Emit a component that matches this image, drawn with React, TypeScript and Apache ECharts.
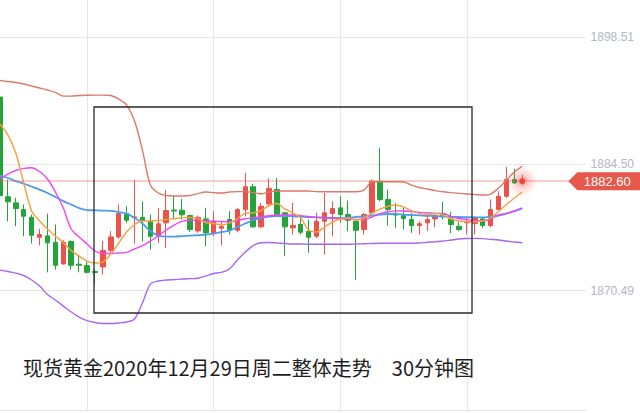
import React, { useEffect, useRef } from "react";
import * as echarts from "echarts";

// 30-minute slots on the time axis (67 candles + empty room on the right)
const slots: string[] = Array.from({ length: 75 }, (_, i) => `K${i + 1}`);

// [open, close, low, high]
const candles: number[][] = [
  [1891.9, 1881.0, 1880.8, 1892.1],
  [1880.87, 1880.32, 1878.17, 1882.78],
  [1880.2, 1879.57, 1877.62, 1880.76],
  [1879.46, 1878.72, 1876.51, 1880.02],
  [1878.61, 1876.62, 1875.7, 1878.91],
  [1876.4, 1876.7, 1875.48, 1877.33],
  [1876.55, 1875.78, 1872.52, 1879.02],
  [1875.84, 1873.3, 1872.82, 1877.81],
  [1873.45, 1875.84, 1873.38, 1876.06],
  [1875.92, 1873.3, 1872.82, 1876.06],
  [1873.42, 1873.3, 1872.52, 1874.48],
  [1873.26, 1872.52, 1872.4, 1873.7],
  [1872.6, 1872.5, 1871.16, 1872.9],
  [1873.12, 1874.96, 1872.27, 1876.0],
  [1874.96, 1876.44, 1874.67, 1877.07],
  [1876.44, 1879.02, 1876.22, 1880.02],
  [1879.02, 1878.28, 1877.99, 1879.83],
  [1878.55, 1878.65, 1875.7, 1882.72],
  [1878.6, 1878.24, 1875.95, 1880.38],
  [1878.17, 1876.51, 1875.03, 1878.9],
  [1876.51, 1877.88, 1875.78, 1879.65],
  [1877.99, 1879.35, 1875.2, 1881.6],
  [1879.4, 1879.3, 1878.36, 1880.93],
  [1879.39, 1878.88, 1878.36, 1880.64],
  [1878.8, 1877.25, 1877.0, 1878.9],
  [1877.1, 1878.6, 1876.9, 1878.8],
  [1878.43, 1876.88, 1875.4, 1879.65],
  [1876.88, 1878.17, 1876.51, 1879.28],
  [1877.4, 1877.6, 1875.5, 1878.2],
  [1878.36, 1877.17, 1876.7, 1879.28],
  [1877.17, 1879.46, 1876.95, 1879.65],
  [1879.46, 1881.98, 1878.72, 1883.53],
  [1881.98, 1877.55, 1877.44, 1882.31],
  [1877.55, 1879.83, 1877.44, 1880.2],
  [1880.09, 1881.8, 1879.83, 1882.9],
  [1881.68, 1878.91, 1878.72, 1882.97],
  [1879.1, 1877.55, 1874.3, 1879.2],
  [1877.44, 1877.7, 1876.7, 1880.2],
  [1877.81, 1876.95, 1876.7, 1878.72],
  [1877.06, 1876.4, 1874.67, 1878.35],
  [1876.51, 1878.17, 1876.3, 1879.1],
  [1878.17, 1879.1, 1874.48, 1881.3],
  [1879.02, 1879.57, 1876.51, 1880.38],
  [1879.65, 1878.91, 1877.99, 1880.93],
  [1878.91, 1878.28, 1877.06, 1880.46],
  [1878.17, 1877.17, 1871.67, 1878.3],
  [1877.25, 1878.91, 1876.7, 1879.1],
  [1879.1, 1882.6, 1878.9, 1882.8],
  [1882.6, 1880.57, 1880.4, 1886.3],
  [1880.57, 1879.46, 1877.7, 1881.68],
  [1878.95, 1878.85, 1877.44, 1880.2],
  [1878.8, 1878.47, 1877.25, 1879.65],
  [1878.35, 1877.7, 1876.88, 1879.1],
  [1877.7, 1877.9, 1876.7, 1878.17],
  [1877.99, 1878.35, 1877.1, 1879.0],
  [1878.43, 1878.8, 1877.5, 1879.1],
  [1878.95, 1878.8, 1878.36, 1880.3],
  [1878.43, 1877.81, 1876.85, 1879.2],
  [1877.62, 1877.25, 1877.1, 1878.1],
  [1878.0, 1878.05, 1876.7, 1878.6],
  [1877.91, 1878.54, 1876.7, 1878.75],
  [1878.43, 1877.7, 1877.45, 1878.65],
  [1877.7, 1879.46, 1877.5, 1880.57],
  [1879.46, 1880.93, 1879.4, 1881.5],
  [1880.93, 1882.78, 1880.75, 1884.19],
  [1882.78, 1882.42, 1882.3, 1883.97],
  [1882.45, 1882.6, 1882.2, 1883.3],
];

const maOrange: number[] = [
  1888.92, 1887.7, 1885.71, 1882.39, 1879.3, 1878.2, 1877.31, 1876.54, 1875.82, 1874.93,
  1874.32, 1873.77, 1873.55, 1873.66, 1874.54, 1875.76, 1876.98, 1877.81, 1878.2, 1878.2,
  1878.25, 1878.38, 1878.46, 1878.55, 1878.58, 1878.46, 1878.03, 1877.92, 1877.79, 1877.97,
  1878.47, 1879.04, 1879.1, 1879.35, 1879.91, 1880.13, 1879.52, 1879.08, 1878.52, 1877.2,
  1876.98, 1877.53, 1878.08, 1878.42, 1878.53, 1878.31, 1878.53, 1879.08, 1879.52, 1879.8,
  1879.96, 1879.74, 1879.35, 1879.02, 1878.91, 1879.02, 1878.86, 1878.42, 1878.2, 1878.12,
  1878.12, 1878.22, 1878.53, 1879.25, 1880.02, 1880.74, 1881.4,
];

const maMagenta: number[] = [
  1882.84, 1883.39, 1883.78, 1884.02, 1884.09, 1883.67, 1882.84, 1881.4, 1879.63, 1877.31,
  1876.42, 1875.65, 1874.88, 1874.6, 1874.6, 1874.66, 1874.73, 1875.1, 1875.48, 1875.98,
  1876.54, 1877.2, 1877.75, 1878.16, 1878.28, 1878.27, 1878.19, 1878.17, 1878.14, 1878.12,
  1878.25, 1878.44, 1878.55, 1878.66, 1878.77, 1878.86, 1878.86, 1878.86, 1878.79, 1878.69,
  1878.6, 1878.56, 1878.5, 1878.44, 1878.38, 1878.38, 1878.38, 1878.63, 1879.02, 1879.22,
  1879.32, 1879.3, 1879.24, 1879.15, 1879.1, 1879.04, 1879.04, 1878.69, 1878.47, 1878.36,
  1878.25, 1878.19, 1878.47, 1878.86, 1879.04, 1879.3, 1879.65,
];

const maBlue: number[] = [
  1883.22, 1882.95, 1882.61, 1882.34, 1882.01, 1881.67, 1881.29, 1880.85, 1880.4, 1880.02,
  1879.63, 1879.41, 1879.38, 1879.34, 1879.32, 1879.19, 1879.02, 1878.52, 1877.92, 1877.09,
  1876.59, 1876.48, 1876.48, 1876.53, 1876.59, 1876.62, 1876.7, 1876.81, 1876.98, 1877.14,
  1877.53, 1877.92, 1878.31, 1878.53, 1878.69, 1878.75, 1878.75, 1878.71, 1878.67, 1878.64,
  1878.6, 1878.57, 1878.53, 1878.53, 1878.58, 1878.64, 1878.71, 1878.8, 1878.91, 1878.97,
  1878.97, 1878.91, 1878.86, 1878.82, 1878.77, 1878.75, 1878.69, 1878.66, 1878.64, 1878.61,
  1878.6, 1878.6, 1878.69, 1878.8, 1879.02, 1879.3, 1879.6,
];

const bandUpper: number[] = [
  1893.73, 1893.62, 1893.51, 1893.34, 1893.12, 1892.9, 1892.68, 1892.42, 1892.01, 1892.01,
  1892.07, 1892.1, 1892.12, 1892.12, 1892.07, 1891.68, 1891.02, 1889.25, 1886.04, 1882.17,
  1881.29, 1881.01, 1880.96, 1880.96, 1881.01, 1881.23, 1881.4, 1881.34, 1881.29, 1881.4,
  1881.45, 1881.45, 1881.34, 1881.18, 1881.4, 1881.51, 1881.51, 1881.51, 1881.51, 1881.51,
  1881.45, 1881.43, 1881.43, 1881.43, 1881.43, 1881.43, 1881.62, 1882.51, 1882.54, 1882.54,
  1882.54, 1882.51, 1882.17, 1881.9, 1881.73, 1881.56, 1881.43, 1881.34, 1881.25, 1881.18,
  1881.12, 1881.07, 1881.18, 1881.84, 1882.73, 1883.61, 1884.28,
];

const bandLower: number[] = [
  1872.77, 1872.61, 1872.44, 1872.17, 1871.67, 1871.0, 1870.06, 1869.46, 1868.79, 1868.13,
  1867.58, 1867.19, 1866.97, 1866.86, 1866.86, 1866.92, 1867.03, 1867.36, 1869.13, 1871.22,
  1871.56, 1871.67, 1871.72, 1871.78, 1871.82, 1871.86, 1872.11, 1872.39, 1872.52, 1872.89,
  1873.88, 1874.77, 1875.48, 1875.79, 1875.82, 1875.76, 1875.71, 1875.65, 1875.65, 1875.63,
  1875.62, 1875.62, 1875.62, 1875.62, 1875.62, 1875.65, 1875.68, 1875.71, 1875.73, 1875.73,
  1875.73, 1875.73, 1875.73, 1875.76, 1875.84, 1875.91, 1875.98, 1876.09, 1876.2, 1876.26,
  1876.28, 1876.25, 1876.17, 1876.09, 1875.98, 1875.87, 1875.79,
];

const priceTicks = { min: 1870.49, max: 1898.51, step: 14.01 };
const lastPrice = 1882.6;
const titleText = "现货黄金2020年12月29日周二整体走势\u300030分钟图";

const UP = "#e9534b";
const DOWN = "#25a33b";
const GRID = "#e6e6ea";

export default function App() {
  const ref = useRef<HTMLDivElement>(null);

  useEffect(() => {
    const chart = echarts.init(ref.current as HTMLDivElement, null, { renderer: "svg" });
    const lastSlot = slots[candles.length - 1];

    const line = (name: string, data: number[], color: string, width: number) => ({
      type: "line",
      name,
      data,
      xAxisIndex: 0,
      yAxisIndex: 0,
      symbol: "none",
      smooth: 0.3,
      clip: false,
      silent: true,
      z: 4,
      lineStyle: { color, width },
    });

    chart.setOption({
      animation: false,
      backgroundColor: "#ffffff",
      grid: [
        { left: -2, right: 54.4, top: 37.3, height: 253.4 },
        { left: -2, right: 54.4, top: 0, bottom: 3 },
      ],
      xAxis: [
        {
          type: "category",
          gridIndex: 0,
          data: slots,
          boundaryGap: false,
          axisLine: { show: false },
          axisTick: { show: false },
          axisLabel: { show: false },
          splitLine: { show: false },
        },
        {
          type: "category",
          gridIndex: 1,
          data: slots,
          boundaryGap: false,
          axisLine: { show: true, lineStyle: { color: GRID, width: 1 } },
          axisTick: { show: false },
          axisLabel: { show: false },
          splitLine: {
            show: true,
            interval: (i: number) => i >= 11 && (i - 11) % 16 === 0,
            lineStyle: { color: GRID, width: 1 },
          },
        },
      ],
      yAxis: [
        {
          type: "value",
          gridIndex: 0,
          position: "right",
          min: priceTicks.min,
          max: priceTicks.max,
          interval: priceTicks.step,
          axisLine: { show: false },
          axisTick: { show: false },
          axisLabel: {
            margin: 5,
            color: "#b3b6c2",
            fontSize: 12,
            fontFamily: "Liberation Sans, Arial, sans-serif",
            formatter: (v: number) => v.toFixed(2),
          },
          splitLine: { show: true, lineStyle: { color: GRID, width: 1 } },
        },
        { type: "value", gridIndex: 1, show: false, min: 0, max: 1 },
      ],
      series: [
        {
          type: "candlestick",
          name: "XAUUSD",
          data: candles,
          xAxisIndex: 0,
          yAxisIndex: 0,
          barWidth: 5,
          clip: false,
          silent: true,
          z: 3,
          itemStyle: {
            color: UP,
            color0: DOWN,
            borderColor: UP,
            borderColor0: DOWN,
            borderWidth: 1,
          },
          markLine: {
            silent: true,
            symbol: ["none", "none"],
            label: { show: false },
            lineStyle: { color: "rgba(236,96,96,0.32)", width: 2, type: "solid" },
            data: [{ yAxis: lastPrice }],
          },
          markPoint: {
            silent: true,
            data: [
              {
                coord: [lastSlot, lastPrice],
                symbol: "circle",
                symbolSize: 30,
                itemStyle: {
                  color: new echarts.graphic.RadialGradient(0.5, 0.5, 0.5, [
                    { offset: 0, color: "rgba(242,67,59,0.55)" },
                    { offset: 0.45, color: "rgba(242,67,59,0.22)" },
                    { offset: 1, color: "rgba(242,67,59,0)" },
                  ]),
                },
                label: { show: false },
              },
              {
                coord: [lastSlot, lastPrice],
                symbol: "circle",
                symbolSize: 6,
                itemStyle: { color: "#f2433b" },
                label: { show: false },
              },
              {
                coord: [lastSlot, lastPrice],
                symbol: "path://M0,9L9,0L72,0L72,18L9,18Z",
                symbolSize: [72, 18],
                symbolOffset: [82, 0],
                itemStyle: { color: "#e8574c" },
                label: {
                  show: true,
                  position: "inside",
                  formatter: lastPrice.toFixed(2),
                  color: "#ffffff",
                  fontSize: 13,
                  fontFamily: "Liberation Sans, Arial, sans-serif",
                  offset: [3, 0],
                },
              },
            ],
          },
        },
        line("布林上轨", bandUpper, "#db7a66", 1.4),
        line("布林下轨", bandLower, "#a865f4", 1.4),
        line("MA20", maBlue, "#4c9df0", 1.8),
        line("MA10", maMagenta, "#ef45ef", 1.4),
        line("MA5", maOrange, "#f7a03e", 1.4),
      ],
      graphic: [
        {
          type: "rect",
          z: 100,
          shape: { x: 94, y: 107, width: 378, height: 206 },
          style: { fill: "none", stroke: "#2a2a2a", lineWidth: 1.3 },
        },
        {
          type: "text",
          z: 100,
          style: {
            x: 23,
            y: 367,
            text: titleText,
            fill: "#1e1e1e",
            fontSize: 20,
            fontFamily: "Noto Sans CJK SC, sans-serif",
            verticalAlign: "middle",
          },
        },
      ],
    });

    return () => chart.dispose();
  }, []);

  return (
    <div
      ref={ref}
      style={{ position: "absolute", left: 0, top: 0, width: 640, height: 413 }}
    />
  );
}
